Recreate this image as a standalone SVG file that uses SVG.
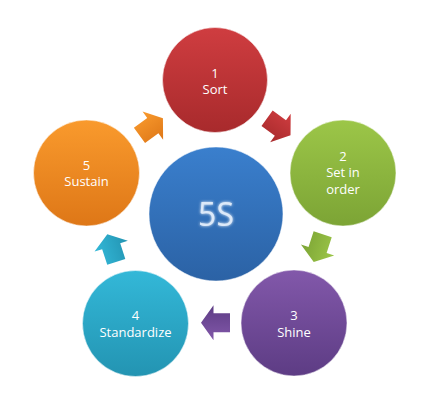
<svg xmlns="http://www.w3.org/2000/svg" width="429" height="413" viewBox="0 0 429 413">
<defs>
<linearGradient id="gRed" x1="0" y1="0" x2="0" y2="1"><stop offset="0" stop-color="#cf3d40"/><stop offset="1" stop-color="#a82a2c"/></linearGradient>
<linearGradient id="gGreen" x1="0" y1="0" x2="0" y2="1"><stop offset="0" stop-color="#9cc648"/><stop offset="1" stop-color="#7ca435"/></linearGradient>
<linearGradient id="gPurple" x1="0" y1="0" x2="0" y2="1"><stop offset="0" stop-color="#8258aa"/><stop offset="1" stop-color="#5d3c84"/></linearGradient>
<linearGradient id="gTeal" x1="0" y1="0" x2="0" y2="1"><stop offset="0" stop-color="#33b8d8"/><stop offset="1" stop-color="#2394b2"/></linearGradient>
<linearGradient id="gOrange" x1="0" y1="0" x2="0" y2="1"><stop offset="0" stop-color="#f99a2d"/><stop offset="1" stop-color="#de7717"/></linearGradient>
<linearGradient id="gBlue" x1="0" y1="0" x2="0" y2="1"><stop offset="0" stop-color="#3a7fcd"/><stop offset="1" stop-color="#2b62a5"/></linearGradient>
<polygon id="arrow" points="-14.5,-9.5 2,-9.5 2,-17.5 14.5,0 2,17.5 2,9.5 -14.5,9.5"/>
<filter id="glow" x="-30%" y="-30%" width="160%" height="160%">
<feGaussianBlur in="SourceAlpha" stdDeviation="1.5" result="b"/>
<feFlood flood-color="#ffffff" flood-opacity="0.9"/>
<feComposite in2="b" operator="in" result="g"/>
<feMerge><feMergeNode in="g"/><feMergeNode in="SourceGraphic"/></feMerge>
</filter>
</defs>
<style>
.c{stroke:#ffffff;stroke-opacity:0.5;stroke-width:1}
.t{font-family:"Open Sans","Liberation Sans",sans-serif;font-size:13px;fill:#ffffff;text-anchor:middle}
.big{font-family:"Open Sans","Liberation Sans",sans-serif;font-size:32px;fill:#dce9f9;text-anchor:middle}
</style>
<g id="connectors">
<use href="#arrow" transform="translate(278.8,126.8) rotate(36)" fill="url(#gRed)"/>
<use href="#arrow" transform="translate(318.2,248.1) rotate(108)" fill="url(#gGreen)"/>
<use href="#arrow" transform="translate(215.5,322.8) rotate(180)" fill="url(#gPurple)"/>
<use href="#arrow" transform="translate(111.8,248.1) rotate(252)" fill="url(#gTeal)"/>
<use href="#arrow" transform="translate(151.2,126.8) rotate(324)" fill="url(#gOrange)"/>
</g>
<g id="center">
<circle class="c" cx="216" cy="214" r="67" fill="url(#gBlue)"/>
<text class="big" x="216" y="225.5" filter="url(#glow)">5S</text>
</g>
<g id="sort">
<circle class="c" cx="215" cy="80" r="52.5" fill="url(#gRed)"/>
<text class="t" x="215" y="77.5">1<tspan x="215" dy="16.5">Sort</tspan></text>
</g>
<g id="setinorder">
<circle class="c" cx="343" cy="173" r="53" fill="url(#gGreen)"/>
<text class="t" x="343" y="160.5">2<tspan x="343" dy="16.5">Set in</tspan><tspan x="343" dy="16.5">order</tspan></text>
</g>
<g id="shine">
<circle class="c" cx="294" cy="323" r="53" fill="url(#gPurple)"/>
<text class="t" x="294" y="320">3<tspan x="294" dy="16.5">Shine</tspan></text>
</g>
<g id="standardize">
<circle class="c" cx="135.5" cy="323.5" r="53" fill="url(#gTeal)"/>
<text class="t" x="135.5" y="320">4<tspan x="135.5" dy="16.5">Standardize</tspan></text>
</g>
<g id="sustain">
<circle class="c" cx="86.5" cy="173" r="53" fill="url(#gOrange)"/>
<text class="t" x="86.5" y="169.5">5<tspan x="86.5" dy="16.5">Sustain</tspan></text>
</g>
</svg>
